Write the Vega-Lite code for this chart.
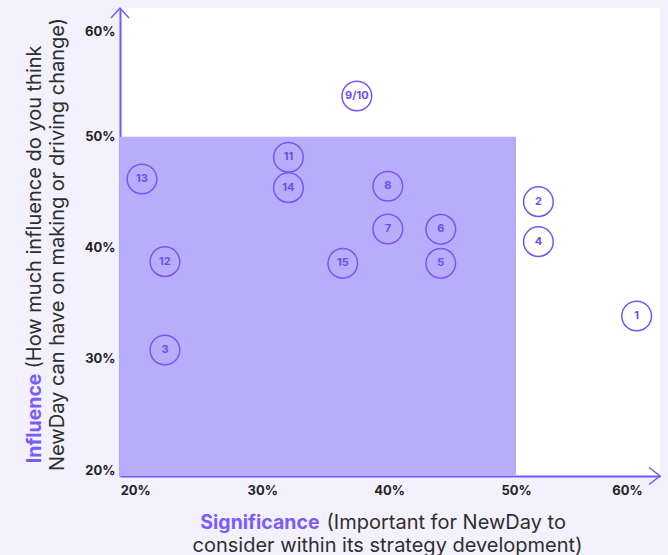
{
  "$schema": "https://vega.github.io/schema/vega-lite/v6.json",
  "width": 540,
  "height": 468,
  "autosize": {"type": "none"},
  "padding": {"left": 120, "top": 8, "right": 8, "bottom": 79},
  "background": "#f3f1fd",
  "config": {"view": {"fill": "#ffffff", "stroke": null}},
  "datasets": {
    "points": [
      {"id": "1", "significance": 0.595, "influence": 0.3386},
      {"id": "2", "significance": 0.5176, "influence": 0.4415},
      {"id": "3", "significance": 0.2234, "influence": 0.308},
      {"id": "4", "significance": 0.5176, "influence": 0.4055},
      {"id": "5", "significance": 0.4407, "influence": 0.386},
      {"id": "6", "significance": 0.4407, "influence": 0.4166},
      {"id": "7", "significance": 0.399, "influence": 0.4169},
      {"id": "8", "significance": 0.399, "influence": 0.4554},
      {"id": "9/10", "significance": 0.3746, "influence": 0.5366},
      {"id": "11", "significance": 0.3207, "influence": 0.4815},
      {"id": "12", "significance": 0.2234, "influence": 0.3875},
      {"id": "13", "significance": 0.2053, "influence": 0.4619},
      {"id": "14", "significance": 0.3207, "influence": 0.4541},
      {"id": "15", "significance": 0.3635, "influence": 0.386}
    ]
  },
  "layer": [
    {
      "data": {"values": [{"x0": 0.188, "x1": 0.5, "y0": 0.1946, "y1": 0.5}]},
      "mark": {"type": "rect", "color": "#b8adfb"},
      "encoding": {
        "x": {
          "field": "x0", "type": "quantitative",
          "scale": {"domain": [0.188, 0.6134], "nice": false, "zero": false},
          "axis": {
            "orient": "bottom",
            "values": [0.2, 0.3, 0.4, 0.5, 0.6],
            "format": ".0%",
            "domainColor": "#7559f7", "domainWidth": 2,
            "ticks": false, "grid": false,
            "labelFont": "Inter", "labelFontSize": 13, "labelFontWeight": "bold", "labelColor": "#222222",
            "labelPadding": 8, "labelFlush": false, "labelOverlap": false,
            "labelOffset": {"condition": {"test": "datum.value > 0.55", "value": -16}, "value": 0},
            "title": "consider within its strategy development)",
            "titleFont": "Inter", "titleFontSize": 20, "titleFontWeight": "normal", "titleColor": "#2e2e2e",
            "titleX": 267, "titleY": 75, "titleAlign": "center", "titleBaseline": "alphabetic"
          }
        },
        "x2": {"field": "x1"},
        "y": {
          "field": "y0", "type": "quantitative",
          "scale": {"domain": [0.1946, 0.6158], "nice": false, "zero": false},
          "axis": {
            "orient": "left",
            "values": [0.2, 0.3, 0.4, 0.5, 0.6],
            "format": ".0%",
            "domainColor": "#7559f7", "domainWidth": 2,
            "ticks": false, "grid": false,
            "labelFont": "Inter", "labelFontSize": 13, "labelFontWeight": "bold", "labelColor": "#222222",
            "labelPadding": 5, "labelFlush": false, "labelOverlap": false,
            "labelOffset": {"condition": {"test": "datum.value > 0.55", "value": 6}, "value": 0},
            "title": "NewDay can have on making or driving change)",
            "titleFont": "Inter", "titleFontSize": 20, "titleFontWeight": "normal", "titleColor": "#2e2e2e",
            "titleAngle": 270,
            "titleX": -57, "titleY": 236, "titleAlign": "center", "titleBaseline": "alphabetic"
          }
        },
        "y2": {"field": "y1"}
      }
    },
    {
      "data": {"name": "points"},
      "mark": {"type": "point", "shape": "circle", "filled": false, "size": 880, "stroke": "#7357f6", "strokeWidth": 1.5, "opacity": 1},
      "encoding": {
        "x": {
          "field": "significance", "type": "quantitative",
          "axis": {
            "orient": "bottom", "labels": false, "ticks": false, "domain": false, "grid": false,
            "title": "Significance",
            "titleFont": "Inter", "titleFontSize": 19.5, "titleFontWeight": "bold", "titleColor": "#7b5cfa",
            "titleX": 199, "titleY": 52, "titleAlign": "right", "titleBaseline": "alphabetic"
          }
        },
        "y": {
          "field": "influence", "type": "quantitative",
          "axis": {
            "orient": "left", "labels": false, "ticks": false, "domain": false, "grid": false,
            "title": "Influence",
            "titleFont": "Inter", "titleFontSize": 19.5, "titleFontWeight": "bold", "titleColor": "#7b5cfa",
            "titleAngle": 270,
            "titleX": -80, "titleY": 365, "titleAlign": "right", "titleBaseline": "alphabetic"
          }
        }
      }
    },
    {
      "data": {"name": "points"},
      "mark": {"type": "text", "font": "Inter", "fontSize": 11, "fontWeight": "bold", "color": "#6a4ef2", "baseline": "middle", "align": "center"},
      "encoding": {
        "x": {
          "field": "significance", "type": "quantitative",
          "axis": {
            "orient": "bottom", "labels": false, "ticks": false, "domain": false, "grid": false,
            "title": "(Important for NewDay to",
            "titleFont": "Inter", "titleFontSize": 20, "titleFontWeight": "normal", "titleColor": "#2e2e2e",
            "titleX": 206, "titleY": 52, "titleAlign": "left", "titleBaseline": "alphabetic"
          }
        },
        "y": {
          "field": "influence", "type": "quantitative",
          "axis": {
            "orient": "left", "labels": false, "ticks": false, "domain": false, "grid": false,
            "title": "(How much influence do you think",
            "titleFont": "Inter", "titleFontSize": 20, "titleFontWeight": "normal", "titleColor": "#2e2e2e",
            "titleAngle": 270,
            "titleX": -80, "titleY": 360, "titleAlign": "left", "titleBaseline": "alphabetic"
          }
        },
        "text": {"field": "id"}
      }
    },
    {
      "data": {"values": [{"x": 0.188, "y": 0.6158}]},
      "mark": {"type": "point", "shape": "M-0.9,1L0,0L0.9,1", "filled": false, "size": 400, "stroke": "#7559f7", "strokeWidth": 1.5, "opacity": 1},
      "encoding": {
        "x": {"field": "x", "type": "quantitative", "axis": null},
        "y": {"field": "y", "type": "quantitative", "axis": null}
      }
    },
    {
      "data": {"values": [{"x": 0.6134, "y": 0.1946}]},
      "mark": {"type": "point", "shape": "M-1.1,-0.85L0,0L-1.1,0.85", "filled": false, "size": 400, "stroke": "#7559f7", "strokeWidth": 1.5, "opacity": 1},
      "encoding": {
        "x": {"field": "x", "type": "quantitative", "axis": null},
        "y": {"field": "y", "type": "quantitative", "axis": null}
      }
    }
  ],
  "resolve": {"axis": {"x": "independent", "y": "independent"}}
}
